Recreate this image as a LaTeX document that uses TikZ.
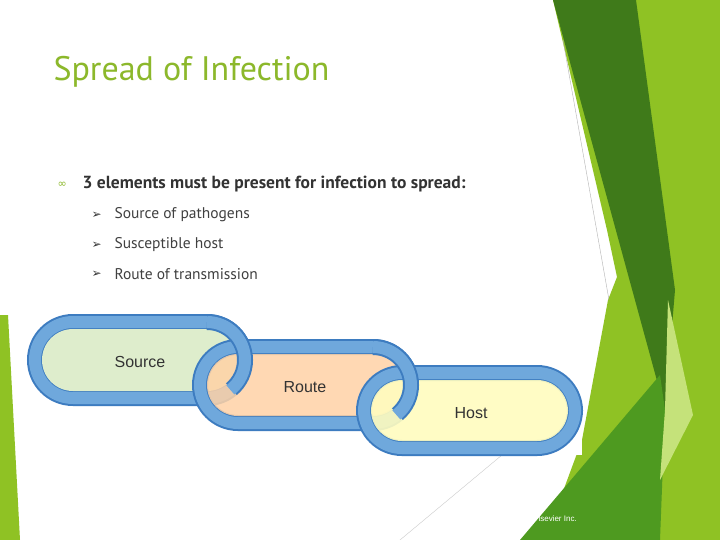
\documentclass[tikz,border=0pt]{standalone}
\usepackage{fontspec}
\setmainfont{PT Sans}
\newfontfamily\dejavu{DejaVu Sans}
\newfontfamily\arial{Liberation Sans}
\begin{document}
\begin{tikzpicture}[x=1pt,y=-1pt,
  ringo/.style={draw=ringedge,line width=16pt},
  ringi/.style={draw=ringblue,line width=12pt},
  lbl/.style={font=\arial\fontsize{16}{18}\selectfont,text=black!80},
  item/.style={anchor=west,font=\fontsize{15.5}{18}\selectfont,text=black!75},
  arr/.style={anchor=west,font=\dejavu\fontsize{12}{14}\selectfont,text=black!80}]
\definecolor{lgreen}{HTML}{8FC224}
\definecolor{dgreen}{HTML}{3F7A1A}
\definecolor{mgreen}{HTML}{4E9A20}
\definecolor{pgreen}{HTML}{C5E27A}
\definecolor{ringblue}{HTML}{6FA8DC}
\definecolor{ringedge}{HTML}{3D7CC0}
\definecolor{titlec}{HTML}{8CB82B}
\useasboundingbox (0,0) rectangle (720,540);
\fill[white] (0,0) rectangle (720,540);
% right decoration
\fill[lgreen] (636,0) -- (720,0) -- (720,540) -- (545,540) -- (582,440) -- (608,300) -- (617,277) -- (607,230) -- (553,0) -- cycle;
\fill[dgreen] (553,0) -- (636,0) -- (675,290) -- (665,410) -- cycle;
\fill[mgreen] (520,540) -- (660,375) -- (665,410) -- (660,540) -- cycle;
\fill[pgreen] (668,300) -- (693,415) -- (660,480) -- (665,410) -- cycle;
\fill[lgreen] (0,315) -- (8,315) -- (20,540) -- (0,540) -- cycle;
\draw[gray!60,line width=0.4pt] (563,40) -- (609,300);
\draw[gray!40,line width=0.4pt] (520,440) -- (400,540);
% links
\fill[white] (28,315) rectangle (582,455);
\draw[ringo,fill=white,rounded corners=38pt] (35,322) rectangle (245,398);
\fill[green!30!olive!20!white,rounded corners=31pt] (42,329) rectangle (238,391);
\draw[ringi,rounded corners=38pt] (35,322) rectangle (245,398);
\draw[ringo,rounded corners=38pt] (200,347) rectangle (411,423);
\fill[orange!35!white,fill opacity=0.85,rounded corners=31pt] (207,354) rectangle (404,416);
\draw[ringi,rounded corners=38pt] (200,347) rectangle (411,423);
\draw[ringo,rounded corners=38pt] (364,373) rectangle (575,448);
\fill[yellow!25!white,fill opacity=0.9,rounded corners=31pt] (371,380) rectangle (568,441);
\draw[ringi,rounded corners=38pt] (364,373) rectangle (575,448);
% interlock: redraw the right caps of Source and Route over the next link
\draw[ringo,line cap=butt] (207,322) -- (207,322) arc[start angle=90,end angle=-50,radius=38pt];
\draw[ringi,line cap=butt] (207,322) -- (207,322) arc[start angle=90,end angle=-52,radius=38pt];
\draw[ringo,line cap=butt] (373,347) arc[start angle=90,end angle=-50,radius=38pt];
\draw[ringi,line cap=butt] (373,347) arc[start angle=90,end angle=-52,radius=38pt];
\node[lbl] (src) at (140,362) {Source};
\node[lbl] (rte) at (305,387) {Route};
\node[lbl] (hst) at (471,413) {Host};
% text
\node[anchor=west,font=\fontsize{34}{38}\selectfont,text=titlec] (title) at (50,72) {Spread of Infection};
\node[anchor=west,font=\dejavu\fontsize{11}{12}\selectfont,text=titlec] (b0) at (54,185) {∞};
\node[anchor=west,font=\bfseries\fontsize{17.5}{20}\selectfont,text=black!80] (main) at (79,184) {3 elements must be present for infection to spread:};
\node[arr] (a1) at (88,215) {➢};
\node[item] (i1) at (111,215) {Source of pathogens};
\node[arr] (a2) at (88,245) {➢};
\node[item] (i2) at (111,245) {Susceptible host};
\node[arr] (a3) at (88,274) {➢};
\node[item] (i3) at (111,274) {Route of transmission};
\node[anchor=west,font=\arial\fontsize{8}{9}\selectfont,text=white] (foot) at (535,519) {lsevier Inc.};
\end{tikzpicture}
\end{document}
